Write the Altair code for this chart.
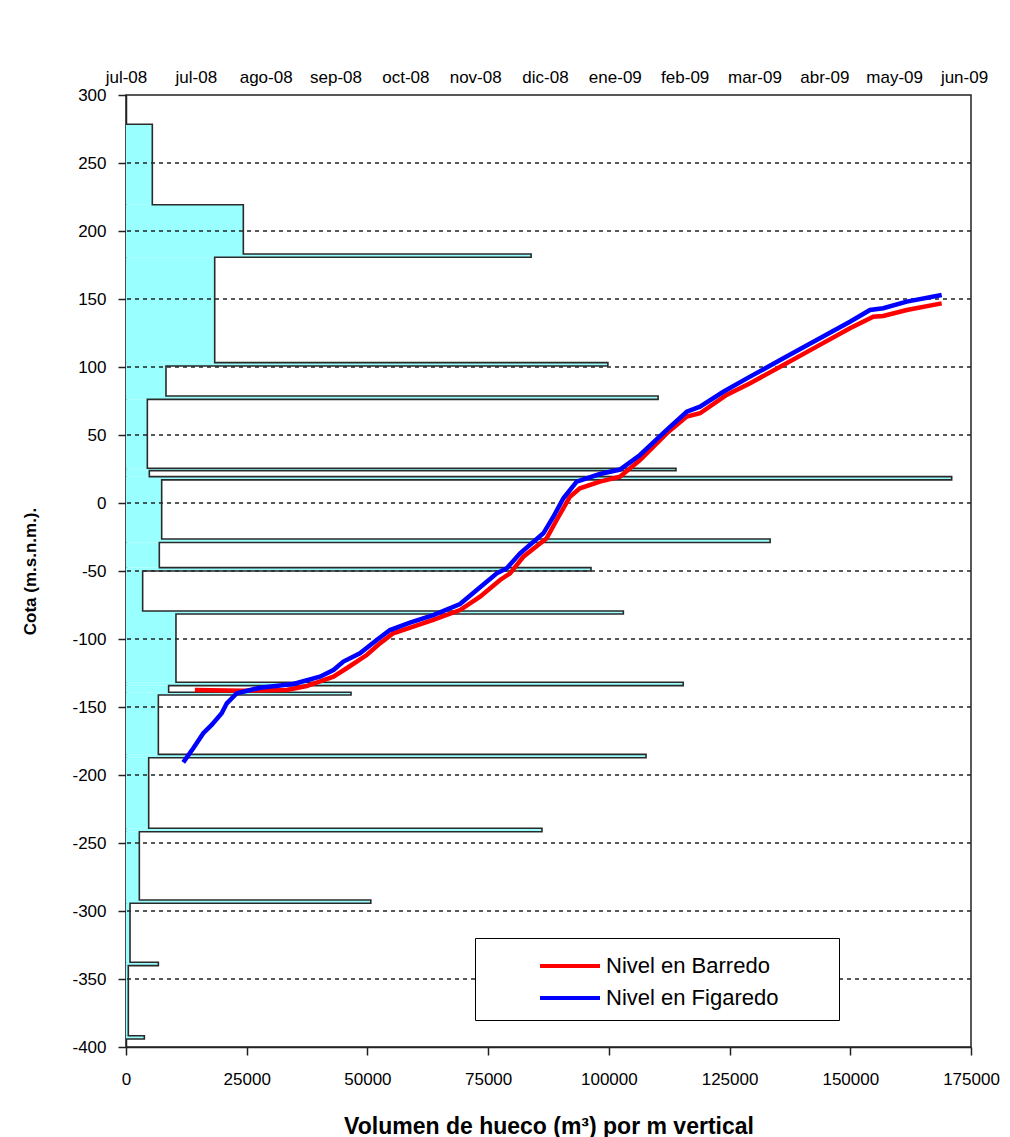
import altair as alt
import pandas as pd

# ---------------- data ----------------
# Volume profile: elevation limits of each band (top -> bottom) and volume per m vertical
cota_limites = [278.5, 219.3, 183.1, 180.7, 103.2, 100.7, 78.7, 76.2, 25.5, 23.8,
                19.4, 17.0, -26.5, -29.0, -47.5, -50.0, -79.4, -81.6, -131.8, -134.3,
                -139.2, -141.2, -184.8, -187.3, -239.2, -241.7, -291.9, -294.3, -337.7,
                -340.2, -391.7, -394.1]
volumen = [5450, 24300, 83900, 18370, 99800, 8280, 110200, 4420, 113900, 4830,
           171000, 7390, 133400, 6900, 96300, 3450, 103000, 10350, 115400, 8830,
           46600, 6700, 107700, 4700, 86150, 2760, 50700, 830, 6700, 480, 3800]

ticks_vol = [0, 25000, 50000, 75000, 100000, 125000, 150000, 175000]
ticks_cota = [300, 250, 200, 150, 100, 50, 0, -50, -100, -150, -200, -250, -300, -350, -400]
grid_cota = [250, 200, 150, 100, 50, 0, -50, -100, -150, -200, -250, -300, -350]

etiquetas_meses = ['jul-08', 'jul-08', 'ago-08', 'sep-08', 'oct-08', 'nov-08', 'dic-08',
                   'ene-09', 'feb-09', 'mar-09', 'abr-09', 'may-09', 'jun-09']
dias_ticks = [0, 30, 60, 90, 120, 150, 180, 210, 240, 270, 300, 330, 360]

# Water levels (days since start of top axis, elevation)
dias_barredo = [29.6, 50.4, 69.0, 77.6, 89.1, 94.8, 103.4, 109.1, 114.8, 123.4, 132.0,
                143.5, 152.1, 160.7, 165.0, 170.7, 180.7, 185.0, 190.7, 195.0, 203.6,
                212.2, 220.8, 232.3, 240.9, 246.6, 258.0, 268.1, 282.4, 296.7, 311.0,
                321.0, 325.3, 335.4, 350.4]
cota_barredo = [-137.5, -138.0, -137.5, -134.6, -127.7, -121.5, -111.8, -103.2, -95.8,
                -90.9, -86.0, -78.7, -68.9, -56.6, -51.7, -39.5, -26.0, -12.5, 4.6, 10.8,
                15.7, 19.3, 31.6, 51.2, 63.5, 66.0, 79.4, 88.0, 101.5, 115.0, 128.5,
                137.0, 137.5, 141.9, 146.8]
dias_figaredo = [24.6, 28.9, 33.2, 36.8, 41.1, 43.3, 47.6, 57.6, 71.9, 83.3, 89.1, 93.4,
                 100.5, 107.7, 113.4, 122.0, 132.0, 143.5, 150.7, 159.3, 163.6, 169.3,
                 179.3, 183.6, 187.9, 193.6, 203.6, 212.2, 220.8, 232.3, 240.9, 246.6,
                 256.6, 268.1, 282.4, 296.7, 311.0, 319.6, 325.3, 335.4, 350.4]
cota_figaredo = [-190.7, -180.4, -169.3, -163.2, -154.6, -147.3, -139.9, -135.8, -133.1,
                 -127.7, -122.8, -116.6, -110.5, -100.7, -93.4, -88.0, -82.4, -74.3, -64.0,
                 -51.7, -48.0, -37.0, -22.3, -10.1, 3.5, 15.7, 21.3, 24.6, 35.3, 53.7,
                 67.1, 70.8, 81.8, 92.9, 106.4, 119.9, 133.3, 141.9, 143.2, 148.1, 153.0]

series = ['Nivel en Barredo', 'Nivel en Figaredo']
colores = ['#ff0000', '#0000ff']

# ---------------- tables ----------------
bands = pd.DataFrame({
    "top": cota_limites[:-1],
    "bottom": cota_limites[1:],
    "vol": volumen,
    "zero": [0] * len(volumen),
})

pts_vol = [0]
pts_cota = [cota_limites[0]]
for k, v in enumerate(volumen):
    pts_vol += [v, v]
    pts_cota += [cota_limites[k], cota_limites[k + 1]]
pts_vol.append(0)
pts_cota.append(cota_limites[-1])
outline = pd.DataFrame({"i": list(range(len(pts_vol))), "vol": pts_vol, "cota": pts_cota})

grid_df = pd.DataFrame({"g": grid_cota})

niveles = pd.concat([
    pd.DataFrame({"serie": series[0], "dia": dias_barredo, "cota": cota_barredo}),
    pd.DataFrame({"serie": series[1], "dia": dias_figaredo, "cota": cota_figaredo}),
], ignore_index=True)

# ---------------- styling ----------------
FONT = "Liberation Sans, Arial, sans-serif"

xs = alt.Scale(domain=[0, 175000], nice=False, zero=False)
ys = alt.Scale(domain=[-400, 300], nice=False, zero=False)

xaxis = alt.Axis(values=ticks_vol, labelExpr="toString(datum.value)", grid=False,
                 tickSize=8, labelPadding=16, labelFontSize=17, labelFont=FONT,
                 labelFlush=False,
                 title="Volumen de hueco (m³) por m vertical", titleFont=FONT,
                 titleFontSize=23, titleFontWeight="bold", titlePadding=28)
yaxis = alt.Axis(values=ticks_cota, labelExpr="toString(datum.value)", grid=False,
                 tickSize=8, labelPadding=12, labelFontSize=17, labelFont=FONT,
                 labelFlush=False,
                 title="Cota (m.s.n.m.).", titleFont=FONT, titleFontSize=17,
                 titleFontWeight="bold", titlePadding=32)

label_arr = "[" + ",".join("'" + s + "'" for s in etiquetas_meses) + "]"
top_axis = alt.Axis(orient="top", values=dias_ticks, ticks=False, domain=False, grid=False,
                    labelExpr=label_arr + "[round(datum.value/30)]", labelOverlap=False,
                    labelFlush=False,
                    labelFontSize=17, labelFont=FONT, labelPadding=9, title=None)

rects = alt.Chart(bands).mark_rect(color="#99ffff", strokeWidth=0).encode(
    x=alt.X("zero:Q", scale=xs, axis=xaxis),
    x2="vol:Q",
    y=alt.Y("top:Q", scale=ys, axis=yaxis),
    y2="bottom:Q",
)

rules = alt.Chart(grid_df).mark_rule(color="#222222", strokeWidth=1.3, strokeDash=[4, 4]).encode(
    y=alt.Y("g:Q", scale=ys, axis=yaxis),
)

edge = alt.Chart(outline).mark_line(color="#2a2a2a", strokeWidth=1.6, interpolate="linear").encode(
    x=alt.X("vol:Q", scale=xs, axis=xaxis),
    y=alt.Y("cota:Q", scale=ys, axis=yaxis),
    order="i:Q",
)

pad = "\u00a0" * 8 + "\u200b"
lines = alt.Chart(niveles).mark_line(strokeWidth=4.5).encode(
    x=alt.X("dia:Q", scale=alt.Scale(domain=[0, 363], nice=False, zero=False), axis=top_axis),
    y=alt.Y("cota:Q", scale=ys, axis=yaxis),
    color=alt.Color("serie:N", scale=alt.Scale(domain=series, range=colores),
                    legend=alt.Legend(title=None, orient="none", legendX=349, legendY=843,
                                      symbolType="M-2,0H2", symbolSize=900,
                                      symbolStrokeWidth=4, symbolOffset=67,
                                      labelOffset=19, labelLimit=500,
                                      labelFontSize=22, labelFont=FONT, labelColor="black",
                                      labelExpr="datum.label + '" + pad + "'",
                                      padding=11, strokeColor="black", fillColor="white",
                                      rowPadding=4)),
    order="dia:Q",
)

base = alt.layer(rects, rules, edge)
chart = alt.layer(base, lines).resolve_scale(x="independent").properties(
    width=845, height=952,
    padding={"left": 13, "top": 60, "right": 0, "bottom": 5},
).configure_view(stroke="#222222", strokeWidth=1.5).configure_axis(
    domainColor="#222222", tickColor="#222222", labelColor="black", titleColor="black",
    domainWidth=1.5, tickWidth=1.5,
)

chart.save("out.html", embed_options={"renderer": "svg", "actions": False})
